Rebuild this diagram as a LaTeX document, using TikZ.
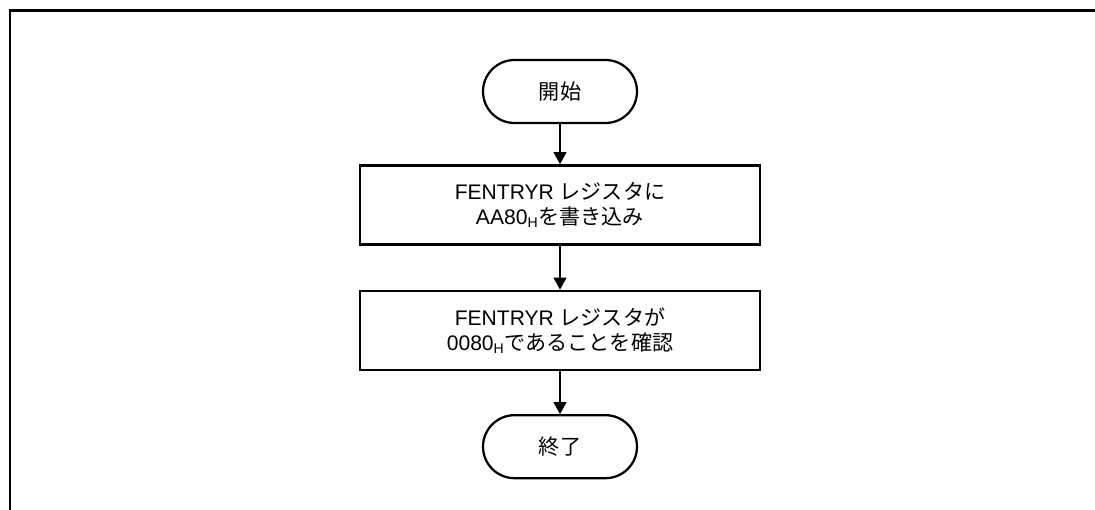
\documentclass[tikz,border=0pt]{standalone}
\usepackage{fontspec}
\setmainfont{Liberation Sans}
\newfontfamily\jp{Noto Sans CJK JP}
\usetikzlibrary{positioning,arrows.meta}
\tikzset{block/.style={draw, line width=0.05cm, minimum width=8cm, minimum height=1.58cm, align=center, font=\fontsize{12}{14.2}\selectfont},
	line/.style={-{Triangle[length=0.24cm,width=0.26cm]}, line width=0.028cm}
}

\begin{document}
\begin{tikzpicture}[x=0.02cm,y=-0.02cm]
\tikzstyle{terminal} = [draw, line width=0.045cm, rounded corners=0.63cm, minimum width=3.08cm, minimum height=1.26cm, font=\fontsize{12}{13}\selectfont]
\useasboundingbox (0,0) rectangle (1095,510);

% frame
\draw[line width=0.06cm] (10,510) |- (1095,11);

\node [terminal] at (560,91.5) (S) {\jp 開始};
\node [block, below=0.8cm of S] (W) {FENTRYR {\jp レジスタに}\\AA80\textsubscript{H}{\jp を書き込み}};
\node [block, below=0.88cm of W] (C) {FENTRYR {\jp レジスタが}\\0080\textsubscript{H}{\jp であることを確認}};
\node [terminal, below=0.86cm of C] (E) {\jp 終了};

%Lines
\draw[line] (S) -- (W);
\draw[line] (W) -- (C);
\draw[line] (C) -- (E);
\end{tikzpicture}
\end{document}
